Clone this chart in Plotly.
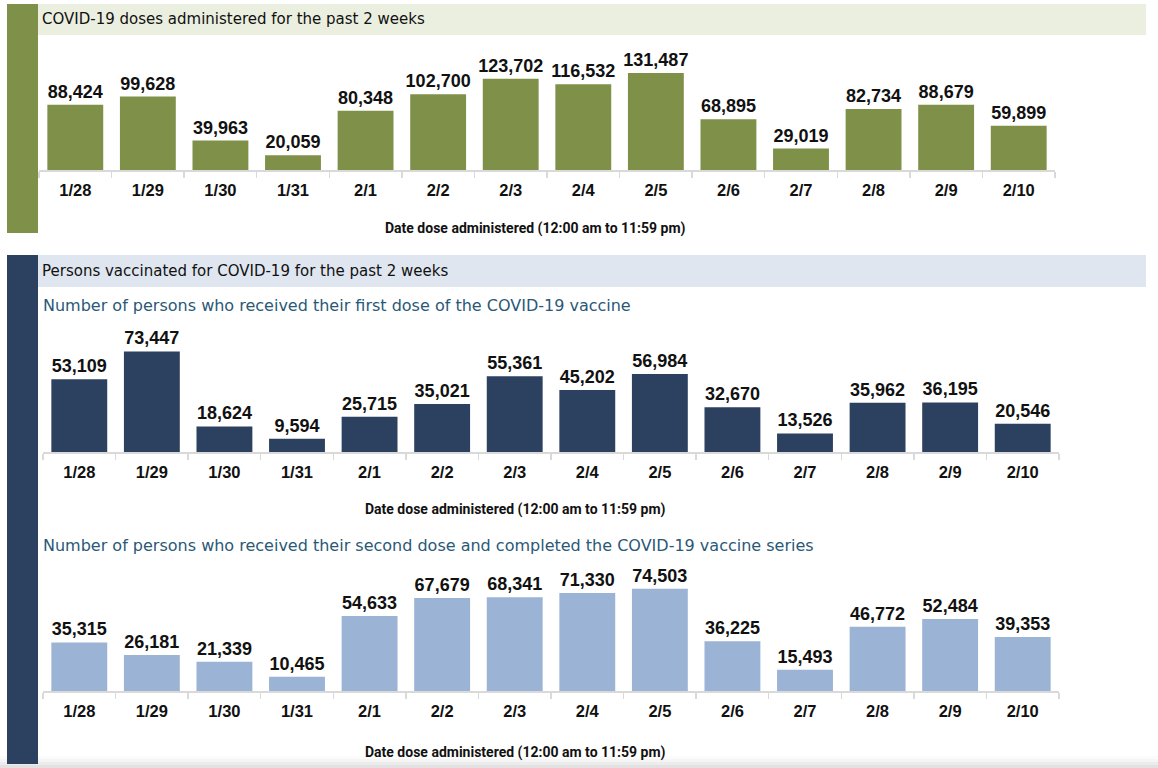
import plotly.graph_objects as go

W, H = 1158, 768

dates = ["1/28", "1/29", "1/30", "1/31", "2/1", "2/2", "2/3", "2/4", "2/5", "2/6", "2/7", "2/8", "2/9", "2/10"]
doses_total = [88424, 99628, 39963, 20059, 80348, 102700, 123702, 116532, 131487, 68895, 29019, 82734, 88679, 59899]
first_dose = [53109, 73447, 18624, 9594, 25715, 35021, 55361, 45202, 56984, 32670, 13526, 35962, 36195, 20546]
second_dose = [35315, 26181, 21339, 10465, 54633, 67679, 68341, 71330, 74503, 36225, 15493, 46772, 52484, 39353]

header1 = "COVID-19 doses administered for the past 2 weeks"
header2 = "Persons vaccinated for COVID-19 for the past 2 weeks"
sub1 = "Number of persons who received their first dose of the COVID-19 vaccine"
sub2 = "Number of persons who received their second dose and completed the COVID-19 vaccine series"
xtitle = "Date dose administered (12:00 am to 11:59 pm)"

GREEN = "#7f9149"
GREEN_LIGHT = "#ebefe0"
NAVY = "#2c4060"
BLUE_LIGHT = "#dfe6f0"
BLUE_BAR = "#9bb3d5"
SUB_COLOR = "#2a5877"
AXIS_GRAY = "#d9d9d9"


def px(x):
    return x / W


def py(y):
    return 1 - y / H


fig = go.Figure()

series = [(doses_total, GREEN, "x", "y"), (first_dose, NAVY, "x2", "y2"), (second_dose, BLUE_BAR, "x3", "y3")]
for vals, col, xa, ya in series:
    fig.add_trace(go.Bar(
        x=dates, y=vals, marker=dict(color=col, line=dict(width=0)),
        xaxis=xa, yaxis=ya,
        text=vals, texttemplate="%{y:,}", textposition="outside",
        cliponaxis=False, constraintext="none",
        textfont=dict(family="Liberation Sans", size=18, color="#111111", weight="bold"),
        hoverinfo="skip", showlegend=False,
    ))

xcommon = dict(
    type="category", showline=True, linecolor=AXIS_GRAY, linewidth=1.5,
    ticks="outside", tickson="boundaries", ticklen=6, tickcolor=AXIS_GRAY, tickwidth=1.5,
    tickfont=dict(family="Liberation Sans", size=16.5, color="#111111", weight="bold"),
    showgrid=False, zeroline=False, fixedrange=True, ticklabelstandoff=5,
)
ycommon = dict(visible=False, showgrid=False, zeroline=False, fixedrange=True)

fig.update_layout(
    width=W, height=H, margin=dict(l=0, r=0, t=0, b=0),
    paper_bgcolor="white", plot_bgcolor="rgba(0,0,0,0)",
    bargap=0.23, hovermode=False,
    xaxis=dict(domain=[px(39), px(1055)], anchor="y", **xcommon),
    yaxis=dict(domain=[py(170), py(40)], range=[0, 130 * 1357], anchor="x", **ycommon),
    xaxis2=dict(domain=[px(43), px(1059)], anchor="y2", **xcommon),
    yaxis2=dict(domain=[py(452), py(330)], range=[0, 122 * 730], anchor="x2", **ycommon),
    xaxis3=dict(domain=[px(43), px(1059)], anchor="y3", **xcommon),
    yaxis3=dict(domain=[py(691), py(570)], range=[0, 121 * 728], anchor="x3", **ycommon),
)

shapes = []


def rect(x0, y0, x1, y1, color, opacity=1):
    shapes.append(dict(type="rect", xref="paper", yref="paper",
                       x0=px(x0), x1=px(x1), y0=py(y1), y1=py(y0),
                       fillcolor=color, line=dict(width=0), layer="below", opacity=opacity))


# subtle bottom fade
for i, op in enumerate([0.03, 0.05, 0.07, 0.09]):
    rect(0, 756 + i * 3, W, 768, "#808080", op)

rect(7, 4, 38, 233, GREEN)
rect(38, 4, 1146, 35, GREEN_LIGHT)
rect(7, 255, 38, 764, NAVY)
rect(38, 255, 1146, 287, BLUE_LIGHT)
fig.update_layout(shapes=shapes)

annotations = []


def text(x, y, s, size, color, family, weight="normal", xanchor="left"):
    annotations.append(dict(xref="paper", yref="paper", x=px(x), y=py(y), text=s,
                            showarrow=False, xanchor=xanchor, yanchor="middle",
                            font=dict(family=family, size=size, color=color, weight=weight)))


text(40, 19, header1, 15, "#111111", "DejaVu Sans")
text(40, 271, header2, 15, "#111111", "DejaVu Sans")
text(41, 305, sub1, 16, SUB_COLOR, "DejaVu Sans")
text(41, 545, sub2, 16, SUB_COLOR, "DejaVu Sans")
text(535, 228, xtitle, 14, "#111111", "Roboto", "bold", "center")
text(515, 509, xtitle, 14, "#111111", "Roboto", "bold", "center")
text(515, 752, xtitle, 14, "#111111", "Roboto", "bold", "center")
fig.update_layout(annotations=annotations)

fig.write_html("out.html", config={"displayModeBar": False, "staticPlot": True},
               post_script="document.body.style.margin='0px';")
